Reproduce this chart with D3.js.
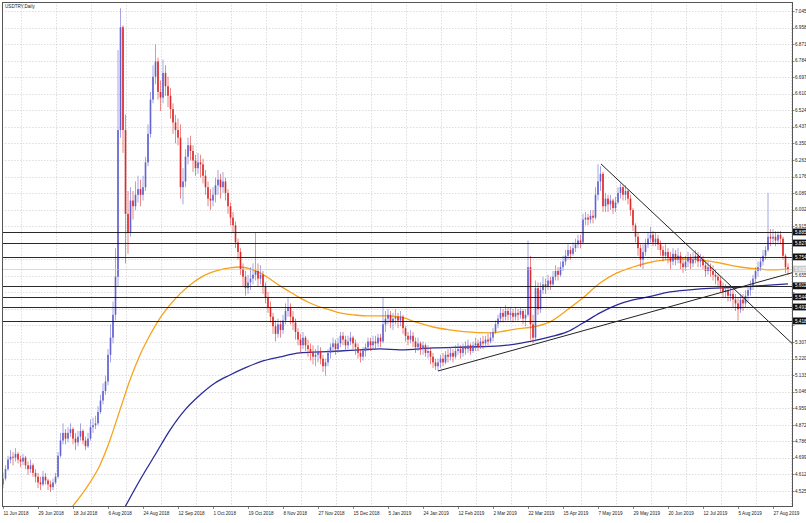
<!DOCTYPE html>
<html>
<head>
<meta charset="utf-8">
<script src="https://cdn.jsdelivr.net/npm/d3@7"></script>
<style>
  body { margin: 0; background: #fff; }
  text { font-family: "Liberation Sans", Arial, sans-serif; }
</style>
</head>
<body>
<svg id="chart" width="806" height="523"></svg>
<script>
// USDTRY daily, 11 Jun 2018 - early Sep 2019
const firstOpen = 4.56

const close = [
  4.590, 4.640, 4.690, 4.705, 4.700, 4.720, 4.690, 4.680, 4.700, 4.660, 4.640, 4.660, 4.620, 4.600,
  4.570, 4.560, 4.600, 4.580, 4.560, 4.545, 4.570, 4.600, 4.710, 4.790, 4.830, 4.800, 4.830, 4.850,
  4.800, 4.780, 4.810, 4.840, 4.790, 4.760, 4.800, 4.860, 4.870, 4.880, 4.940, 5.000, 5.050, 5.100,
  5.240, 5.330, 5.450, 5.650, 6.420, 6.960, 6.420, 5.980, 5.880, 6.050, 6.020, 6.080, 6.110, 6.080,
  6.120, 6.250, 6.400, 6.580, 6.700, 6.780, 6.620, 6.590, 6.720, 6.650, 6.600, 6.530, 6.460, 6.420,
  6.380, 6.120, 6.150, 6.280, 6.340, 6.310, 6.260, 6.220, 6.250, 6.240, 6.180, 6.120, 6.060, 6.050,
  6.080, 6.130, 6.160, 6.120, 6.150, 6.090, 6.020, 5.960, 5.920, 5.830, 5.780, 5.690, 5.650, 5.590,
  5.620, 5.640, 5.660, 5.680, 5.640, 5.660, 5.600, 5.540, 5.490, 5.440, 5.390, 5.350, 5.400, 5.370,
  5.420, 5.470, 5.490, 5.440, 5.410, 5.360, 5.320, 5.290, 5.330, 5.290, 5.270, 5.250, 5.230, 5.240,
  5.260, 5.220, 5.180, 5.200, 5.250, 5.280, 5.300, 5.270, 5.300, 5.340, 5.320, 5.290, 5.310, 5.330,
  5.300, 5.280, 5.250, 5.230, 5.260, 5.280, 5.310, 5.290, 5.310, 5.300, 5.330, 5.310, 5.400, 5.430,
  5.450, 5.410, 5.430, 5.440, 5.420, 5.440, 5.380, 5.340, 5.320, 5.340, 5.310, 5.280, 5.300, 5.270,
  5.290, 5.250, 5.260, 5.230, 5.200, 5.180, 5.200, 5.220, 5.200, 5.240, 5.230, 5.250, 5.230, 5.260,
  5.270, 5.250, 5.280, 5.270, 5.290, 5.260, 5.290, 5.300, 5.280, 5.310, 5.300, 5.320, 5.310, 5.330,
  5.360, 5.400, 5.430, 5.460, 5.440, 5.470, 5.450, 5.460, 5.440, 5.460, 5.450, 5.470, 5.430, 5.450,
  5.700, 5.400, 5.330, 5.590, 5.480, 5.580, 5.610, 5.600, 5.630, 5.610, 5.650, 5.680, 5.660, 5.700,
  5.730, 5.760, 5.790, 5.770, 5.800, 5.820, 5.840, 5.830, 5.950, 5.960, 5.950, 5.970, 5.960, 6.080,
  6.150, 6.190, 6.020, 6.060, 6.030, 6.050, 6.010, 6.040, 6.090, 6.120, 6.080, 6.100, 6.060, 6.000,
  5.920, 5.860, 5.800, 5.740, 5.780, 5.820, 5.850, 5.870, 5.830, 5.850, 5.820, 5.790, 5.760, 5.780,
  5.750, 5.730, 5.770, 5.740, 5.760, 5.720, 5.700, 5.730, 5.750, 5.720, 5.740, 5.760, 5.730, 5.740,
  5.710, 5.680, 5.700, 5.680, 5.660, 5.650, 5.630, 5.600, 5.570, 5.580, 5.550, 5.560, 5.530, 5.510,
  5.480, 5.530, 5.510, 5.550, 5.580, 5.600, 5.640, 5.680, 5.700, 5.730, 5.760, 5.790, 5.860, 5.850,
  5.860, 5.840, 5.870, 5.850, 5.760, 5.700, 5.690
]

const high = [
  4.620, 4.660, 4.710, 4.740, 4.730, 4.750, 4.730, 4.710, 4.720, 4.710, 4.680, 4.690, 4.670, 4.640,
  4.620, 4.600, 4.630, 4.620, 4.590, 4.580, 4.590, 4.620, 4.730, 4.830, 4.880, 4.850, 4.860, 4.880,
  4.860, 4.830, 4.840, 4.880, 4.850, 4.810, 4.830, 4.900, 4.910, 4.920, 4.970, 5.030, 5.090, 5.130,
  5.270, 5.400, 5.520, 5.800, 6.840, 7.060, 6.970, 6.500, 6.100, 6.120, 6.100, 6.150, 6.180, 6.160,
  6.180, 6.280, 6.450, 6.620, 6.760, 6.870, 6.800, 6.680, 6.790, 6.760, 6.700, 6.640, 6.560, 6.500,
  6.480, 6.450, 6.220, 6.320, 6.380, 6.390, 6.340, 6.290, 6.300, 6.290, 6.270, 6.210, 6.150, 6.110,
  6.120, 6.170, 6.210, 6.190, 6.200, 6.170, 6.110, 6.040, 5.990, 5.940, 5.850, 5.800, 5.720, 5.680,
  5.660, 5.700, 5.720, 5.880, 5.720, 5.710, 5.680, 5.620, 5.570, 5.520, 5.460, 5.420, 5.430, 5.420,
  5.450, 5.510, 5.540, 5.510, 5.470, 5.430, 5.380, 5.350, 5.360, 5.340, 5.320, 5.300, 5.290, 5.270,
  5.290, 5.280, 5.240, 5.220, 5.270, 5.300, 5.330, 5.320, 5.330, 5.360, 5.360, 5.340, 5.340, 5.360,
  5.340, 5.320, 5.300, 5.270, 5.280, 5.300, 5.330, 5.330, 5.340, 5.340, 5.350, 5.350, 5.540, 5.470,
  5.480, 5.470, 5.460, 5.480, 5.460, 5.470, 5.450, 5.390, 5.360, 5.370, 5.360, 5.330, 5.330, 5.310,
  5.310, 5.300, 5.290, 5.280, 5.250, 5.220, 5.220, 5.240, 5.250, 5.260, 5.270, 5.280, 5.270, 5.290,
  5.300, 5.290, 5.300, 5.310, 5.320, 5.300, 5.310, 5.330, 5.320, 5.330, 5.340, 5.340, 5.350, 5.360,
  5.380, 5.420, 5.450, 5.490, 5.480, 5.500, 5.490, 5.490, 5.480, 5.490, 5.480, 5.490, 5.480, 5.480,
  5.840, 5.760, 5.450, 5.630, 5.620, 5.620, 5.650, 5.640, 5.660, 5.650, 5.680, 5.710, 5.700, 5.730,
  5.760, 5.790, 5.820, 5.810, 5.830, 5.850, 5.870, 5.870, 5.980, 5.990, 5.980, 6.000, 6.000, 6.120,
  6.240, 6.230, 6.200, 6.090, 6.080, 6.080, 6.060, 6.070, 6.120, 6.140, 6.130, 6.130, 6.110, 6.080,
  6.010, 5.930, 5.880, 5.820, 5.820, 5.850, 5.880, 5.910, 5.890, 5.880, 5.870, 5.840, 5.810, 5.820,
  5.800, 5.780, 5.800, 5.790, 5.800, 5.780, 5.750, 5.760, 5.780, 5.770, 5.780, 5.790, 5.780, 5.770,
  5.760, 5.730, 5.730, 5.720, 5.710, 5.690, 5.670, 5.650, 5.620, 5.610, 5.600, 5.600, 5.580, 5.560,
  5.540, 5.560, 5.560, 5.580, 5.600, 5.630, 5.660, 5.700, 5.730, 5.750, 5.790, 5.810, 6.090, 5.900,
  5.900, 5.890, 5.890, 5.890, 5.860, 5.770, 5.720
]

const low = [
  4.540, 4.580, 4.630, 4.670, 4.660, 4.680, 4.670, 4.650, 4.660, 4.640, 4.610, 4.620, 4.600, 4.570,
  4.540, 4.530, 4.550, 4.560, 4.530, 4.520, 4.530, 4.560, 4.590, 4.700, 4.770, 4.770, 4.780, 4.810,
  4.770, 4.740, 4.760, 4.790, 4.770, 4.740, 4.750, 4.790, 4.830, 4.850, 4.870, 4.930, 4.980, 5.030,
  5.080, 5.200, 5.300, 5.420, 5.600, 6.380, 6.300, 5.720, 5.770, 5.860, 5.950, 6.000, 6.040, 6.020,
  6.050, 6.100, 6.230, 6.380, 6.560, 6.660, 6.580, 6.520, 6.560, 6.600, 6.540, 6.480, 6.400, 6.350,
  6.340, 6.060, 6.030, 6.120, 6.240, 6.260, 6.200, 6.180, 6.190, 6.170, 6.140, 6.080, 6.020, 6.000,
  6.020, 6.040, 6.080, 6.060, 6.090, 6.050, 5.980, 5.920, 5.880, 5.800, 5.740, 5.660, 5.600, 5.550,
  5.560, 5.580, 5.610, 5.630, 5.600, 5.610, 5.560, 5.510, 5.460, 5.410, 5.350, 5.310, 5.330, 5.330,
  5.350, 5.400, 5.440, 5.400, 5.370, 5.320, 5.290, 5.250, 5.270, 5.260, 5.230, 5.210, 5.190, 5.180,
  5.200, 5.190, 5.150, 5.130, 5.180, 5.220, 5.250, 5.240, 5.250, 5.280, 5.290, 5.260, 5.270, 5.290,
  5.270, 5.240, 5.220, 5.200, 5.210, 5.230, 5.260, 5.260, 5.270, 5.270, 5.280, 5.280, 5.300, 5.360,
  5.400, 5.380, 5.370, 5.400, 5.380, 5.390, 5.350, 5.310, 5.290, 5.300, 5.280, 5.250, 5.260, 5.240,
  5.240, 5.230, 5.220, 5.190, 5.170, 5.160, 5.155, 5.170, 5.180, 5.190, 5.200, 5.210, 5.200, 5.220,
  5.240, 5.220, 5.230, 5.240, 5.250, 5.240, 5.250, 5.260, 5.260, 5.270, 5.270, 5.280, 5.290, 5.300,
  5.310, 5.350, 5.380, 5.410, 5.410, 5.420, 5.420, 5.420, 5.410, 5.420, 5.420, 5.430, 5.400, 5.390,
  5.440, 5.320, 5.300, 5.310, 5.450, 5.460, 5.560, 5.560, 5.580, 5.580, 5.600, 5.630, 5.630, 5.650,
  5.680, 5.710, 5.740, 5.740, 5.760, 5.780, 5.800, 5.800, 5.820, 5.920, 5.920, 5.930, 5.930, 5.950,
  6.050, 6.100, 5.990, 5.990, 5.990, 6.000, 5.980, 5.990, 6.030, 6.060, 6.050, 6.050, 6.030, 5.970,
  5.890, 5.830, 5.760, 5.700, 5.690, 5.760, 5.800, 5.830, 5.810, 5.810, 5.790, 5.760, 5.730, 5.740,
  5.720, 5.690, 5.710, 5.710, 5.720, 5.690, 5.670, 5.680, 5.700, 5.690, 5.700, 5.720, 5.700, 5.700,
  5.690, 5.650, 5.660, 5.650, 5.630, 5.610, 5.600, 5.570, 5.540, 5.540, 5.520, 5.520, 5.490, 5.470,
  5.420, 5.460, 5.470, 5.490, 5.520, 5.550, 5.580, 5.620, 5.650, 5.680, 5.710, 5.740, 5.780, 5.810,
  5.820, 5.810, 5.820, 5.820, 5.740, 5.670, 5.660
]

// date labels, one every 14 bars
const dateLabels = ['11 Jun 2018', '29 Jun 2018', '18 Jul 2018', '6 Aug 2018', '24 Aug 2018',
  '12 Sep 2018', '1 Oct 2018', '19 Oct 2018', '8 Nov 2018', '27 Nov 2018', '15 Dec 2018',
  '5 Jan 2019', '24 Jan 2019', '12 Feb 2019', '2 Mar 2019', '22 Mar 2019', '15 Apr 2019',
  '7 May 2019', '29 May 2019', '20 Jun 2019', '12 Jul 2019', '5 Aug 2019', '27 Aug 2019']
const labelEvery = 14

const priceLabels = ['7.045', '6.958', '6.871', '6.784', '6.697', '6.610', '6.524', '6.437',
  '6.350', '6.263', '6.176', '6.089', '6.002', '5.915', '5.828', '5.741', '5.655', '5.568',
  '5.481', '5.394', '5.307', '5.220', '5.133', '5.046', '4.959', '4.872', '4.786', '4.699',
  '4.612', '4.525']

// horizontal support / resistance levels
const levels = [5.885, 5.827, 5.754, 5.602, 5.544, 5.491, 5.418]

// moving averages: [bar, price]
const maOrange = [[27.6, 4.441], [32.8, 4.531], [38.8, 4.662], [42.8, 4.793], [46.8, 4.951],
  [50.8, 5.108], [54.8, 5.239], [58.8, 5.344], [62.8, 5.433], [66.8, 5.502], [70.8, 5.560],
  [74.8, 5.607], [78.8, 5.644], [82.8, 5.670], [86.8, 5.686], [90.8, 5.696], [94.8, 5.701],
  [98.8, 5.691], [102.8, 5.670], [106.8, 5.638], [110.8, 5.602], [114.8, 5.570], [118.8, 5.539],
  [122.8, 5.512], [126.8, 5.491], [130.8, 5.476], [134.8, 5.460], [140.8, 5.449], [146.8, 5.444],
  [152.8, 5.444], [158.8, 5.439], [164.8, 5.413], [172, 5.386], [178.8, 5.371], [185.6, 5.360],
  [194.8, 5.355], [200.8, 5.365], [205.6, 5.376], [212, 5.386], [218.8, 5.413], [225.6, 5.475],
  [232, 5.539], [238.8, 5.617], [245.6, 5.670], [252, 5.701], [257.6, 5.722], [264.8, 5.738],
  [270.8, 5.743], [278.8, 5.738], [286.8, 5.722], [294.8, 5.701], [301.6, 5.691], [308, 5.686],
  [314, 5.691]]

const maBlue = [[48.8, 4.441], [54.8, 4.583], [60.8, 4.714], [66.8, 4.845], [72.8, 4.951],
  [78.8, 5.029], [84.8, 5.092], [90.8, 5.134], [96.8, 5.171], [102.8, 5.203], [110.8, 5.229],
  [118.8, 5.250], [126.8, 5.255], [134.8, 5.260], [142.8, 5.266], [150.8, 5.271], [158.8, 5.266],
  [172, 5.276], [185.6, 5.281], [198.8, 5.287], [212, 5.313], [218.8, 5.334], [225.6, 5.360],
  [232, 5.407], [238.8, 5.460], [245.6, 5.502], [252, 5.528], [258, 5.544], [266.8, 5.570],
  [278.8, 5.586], [294.8, 5.596], [301.6, 5.602], [314, 5.612]]

// trend lines [bar, price]
const trendDown = [[239.2, 6.242], [316, 5.295]]
const trendUp = [[174, 5.155], [316, 5.672]]

const lastPrice = 5.690

var svg = d3.select('#chart')

var plot = { left: 2, top: 2, right: 792, bottom: 506 }

var x = d3.scaleLinear().domain([0, 314]).range([3, 788])
var y = d3.scaleLinear().domain([4.525, 7.045]).range([491, 11])

var fontSize = 4.6

svg.append('rect')
  .attr('width', 806).attr('height', 523).attr('fill', '#fff')

svg.append('clipPath').attr('id', 'plotclip')
  .append('rect')
  .attr('x', plot.left).attr('y', plot.top)
  .attr('width', plot.right - plot.left).attr('height', plot.bottom - plot.top)

var grid = svg.append('g')

// horizontal grid
grid.selectAll('.hgrid')
  .data(priceLabels)
  .enter()
  .append('line')
  .attr('x1', plot.left).attr('x2', plot.right)
  .attr('y1', d => Math.round(y(+d)) + 0.5)
  .attr('y2', d => Math.round(y(+d)) + 0.5)
  .attr('stroke', '#c8c8c8')
  .attr('stroke-width', 0.6)
  .attr('stroke-dasharray', '1.5,1.5')

// vertical grid, half way between the date labels
grid.selectAll('.vgrid')
  .data(dateLabels)
  .enter()
  .append('line')
  .attr('x1', (d, i) => Math.round(x(i * labelEvery + labelEvery / 2)) + 0.5)
  .attr('x2', (d, i) => Math.round(x(i * labelEvery + labelEvery / 2)) + 0.5)
  .attr('y1', plot.top).attr('y2', plot.bottom)
  .attr('stroke', '#c8c8c8')
  .attr('stroke-width', 0.6)
  .attr('stroke-dasharray', '1.5,1.5')

var inner = svg.append('g').attr('clip-path', 'url(#plotclip)')

// moving averages
var maLine = d3.line()
  .x(d => x(d[0]))
  .y(d => y(d[1]))
  .curve(d3.curveMonotoneX)

inner.append('path')
  .datum(maOrange)
  .attr('d', maLine)
  .attr('fill', 'none')
  .attr('stroke', '#f7a21b')
  .attr('stroke-width', 1.3)

inner.append('path')
  .datum(maBlue)
  .attr('d', maLine)
  .attr('fill', 'none')
  .attr('stroke', '#2b2b9a')
  .attr('stroke-width', 1.3)

// candles
var bars = close.map((c, i) => {
  var o = i === 0 ? firstOpen : close[i - 1]
  return { i: i, o: o, c: c, h: Math.max(high[i], o, c), l: Math.min(low[i], o, c) }
})

var bullColor = '#6262d0'
var bearColor = '#dd2a2a'

inner.selectAll('.wick')
  .data(bars)
  .enter()
  .append('line')
  .attr('class', 'wick')
  .attr('x1', d => x(d.i)).attr('x2', d => x(d.i))
  .attr('y1', d => y(d.h)).attr('y2', d => y(d.l))
  .attr('stroke', d => d.c >= d.o ? bullColor : bearColor)
  .attr('stroke-width', 0.7)
  .attr('opacity', 0.8)

inner.selectAll('.body')
  .data(bars)
  .enter()
  .append('rect')
  .attr('class', 'body')
  .attr('x', d => x(d.i) - 0.8)
  .attr('width', 1.6)
  .attr('y', d => y(Math.max(d.o, d.c)))
  .attr('height', d => Math.max(0.7, Math.abs(y(d.o) - y(d.c))))
  .attr('fill', d => d.c >= d.o ? bullColor : bearColor)

// level lines
inner.selectAll('.level')
  .data(levels)
  .enter()
  .append('line')
  .attr('x1', plot.left).attr('x2', plot.right)
  .attr('y1', d => Math.round(y(d)) + 0.5)
  .attr('y2', d => Math.round(y(d)) + 0.5)
  .attr('stroke', '#111')
  .attr('stroke-width', 0.9)

// last price line
inner.append('line')
  .attr('x1', plot.left).attr('x2', plot.right)
  .attr('y1', Math.round(y(lastPrice)) + 0.5)
  .attr('y2', Math.round(y(lastPrice)) + 0.5)
  .attr('stroke', '#c0c0c0')
  .attr('stroke-width', 0.6)

// trend lines
var tLine = d3.line().x(d => x(d[0])).y(d => y(d[1]))
;[trendDown, trendUp].forEach(t => {
  inner.append('path')
    .datum(t)
    .attr('d', tLine)
    .attr('fill', 'none')
    .attr('stroke', '#222')
    .attr('stroke-width', 1)
})

// frame
svg.append('rect')
  .attr('x', plot.left + 0.5).attr('y', plot.top + 0.5)
  .attr('width', plot.right - plot.left).attr('height', plot.bottom - plot.top)
  .attr('fill', 'none')
  .attr('stroke', '#555')
  .attr('stroke-width', 1)

// level tags on the price axis (they cover the scale labels, as in the terminal)
var tags = levels.map(v => ({ v: v, bg: '#111', fg: '#fff' }))
tags.push({ v: lastPrice, bg: '#c8c8c8', fg: '#fff' })

var tagYs = tags.map(t => y(t.v))
var visibleLabels = priceLabels.filter(d => tagYs.every(ty => Math.abs(ty - y(+d)) > 5))

// price axis
var yAxis = svg.append('g')
yAxis.selectAll('.ptick')
  .data(priceLabels)
  .enter()
  .append('line')
  .attr('x1', plot.right).attr('x2', plot.right + 2.5)
  .attr('y1', d => Math.round(y(+d)) + 0.5)
  .attr('y2', d => Math.round(y(+d)) + 0.5)
  .attr('stroke', '#555')
  .attr('stroke-width', 0.7)

yAxis.selectAll('.plabel')
  .data(visibleLabels)
  .enter()
  .append('text')
  .attr('x', plot.right + 3)
  .attr('y', d => y(+d) + 1.6)
  .attr('font-size', fontSize)
  .attr('fill', '#222')
  .text(d => d)

var tag = yAxis.selectAll('.tag')
  .data(tags)
  .enter()
  .append('g')
  .attr('transform', d => 'translate(' + (plot.right + 1) + ',' + y(d.v) + ')')

tag.append('rect')
  .attr('x', 0).attr('y', -3.4)
  .attr('width', 14).attr('height', 6.8)
  .attr('fill', d => d.bg)

tag.append('text')
  .attr('x', 2).attr('y', 1.6)
  .attr('font-size', fontSize)
  .attr('fill', d => d.fg)
  .text(d => d.v.toFixed(3))

// date axis
var xAxis = svg.append('g')
xAxis.selectAll('.dtick')
  .data(dateLabels)
  .enter()
  .append('line')
  .attr('x1', (d, i) => Math.round(x(i * labelEvery)) + 0.5)
  .attr('x2', (d, i) => Math.round(x(i * labelEvery)) + 0.5)
  .attr('y1', plot.bottom).attr('y2', plot.bottom + 3)
  .attr('stroke', '#555')
  .attr('stroke-width', 0.7)

xAxis.selectAll('.dlabel')
  .data(dateLabels)
  .enter()
  .append('text')
  .attr('x', (d, i) => x(i * labelEvery) + 0.5)
  .attr('y', plot.bottom + 8.5)
  .attr('font-size', fontSize)
  .attr('fill', '#222')
  .text(d => d)

// title
svg.append('text')
  .attr('x', 5).attr('y', 8)
  .attr('font-size', fontSize)
  .attr('fill', '#222')
  .text('USDTRY,Daily')
</script>
</body>
</html>
